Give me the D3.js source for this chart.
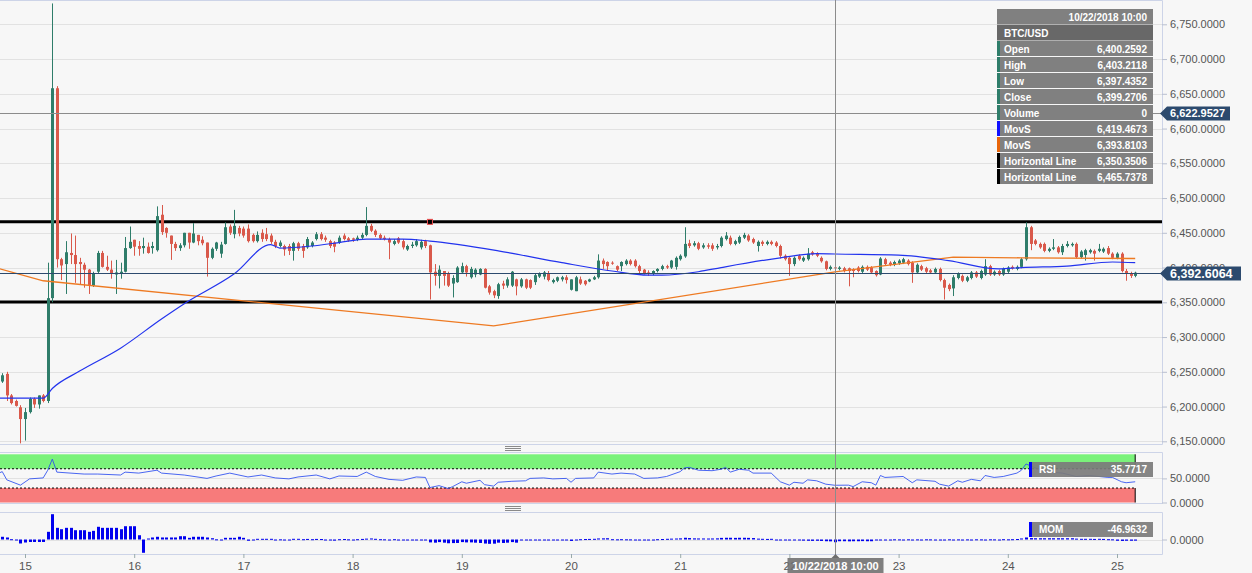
<!DOCTYPE html>
<html><head><meta charset="utf-8">
<script src="https://cdn.jsdelivr.net/npm/d3@7"></script>
<style>
html,body{margin:0;padding:0;background:#f7f7f7;overflow:hidden;}
svg{display:block;font-family:Arial,"Liberation Sans",sans-serif;}
</style></head><body>
<svg id="chart" width="1252" height="573"></svg>
<script>
// ---------------- DATA ----------------
const symbol = "BTC/USD";
const firstCandleUTC = [2018, 9, 14, 19]; // hourly candles
const opens = [
6236,6247,6216,6208,6199,6182,6192,6211,6203,6216,
6208,6356,6658,6412,6405,6421,6418,6408,6404,6397,
6374,6394,6421,6401,6397,6390,6391,6394,6428,6440,
6431,6428,6430,6428,6425,6476,6457,6446,6434,6428,
6432,6450,6436,6447,6440,6436,6414,6427,6420,6434,
6459,6448,6457,6456,6456,6447,6438,6450,6448,6446,
6437,6431,6431,6431,6424,6435,6431,6429,6431,6441,
6448,6443,6438,6436,6436,6446,6442,6442,6440,6443,
6447,6460,6453,6447,6443,6441,6434,6442,6438,6426,
6431,6432,6429,6438,6432,6394,6388,6395,6391,6377,
6379,6393,6402,6386,6390,6390,6398,6373,6366,6359,
6377,6374,6374,6383,6373,6383,6382,6379,6387,6387,
6392,6379,6381,6383,6386,6368,6366,6383,6381,6380,
6383,6386,6410,6408,6407,6402,6402,6405,6410,6410,
6402,6397,6393,6391,6395,6398,6402,6400,6401,6412,
6416,6435,6432,6435,6429,6432,6432,6429,6431,6441,
6443,6434,6436,6443,6446,6441,6431,6437,6434,6437,
6436,6431,6417,6414,6405,6417,6410,6412,6422,6420,
6414,6409,6398,6400.2592,6398,6399,6399,6397,6400,6394,
6401,6400,6395,6390,6412,6407,6404,6406,6407,6410,
6407,6393,6402,6399,6396,6393,6398,6382,6375,6370,
6385,6388,6381,6385,6393,6385,6390,6402,6390,6395,
6390,6394,6401,6398,6401,6412,6458,6439,6434,6434,
6424,6427,6429,6422,6431,6432,6434,6415,6418,6422,
6424,6424,6423,6428,6420,6414,6420,6395,6392,6388];
const highs = [
6248,6250,6218,6210,6202,6198,6213,6213,6216,6218,
6407,6780,6661,6414,6438,6449,6446,6414,6407,6398,
6394,6424,6424,6417,6410,6411,6407,6444,6459,6440,
6438,6443,6436,6437,6488,6490,6458,6446,6437,6435,
6450,6450,6464,6447,6445,6436,6429,6437,6437,6465,
6462,6483,6460,6459,6462,6449,6452,6455,6457,6449,
6440,6439,6433,6434,6437,6437,6434,6444,6438,6451,
6451,6446,6440,6438,6446,6449,6444,6443,6446,6450,
6487,6463,6455,6449,6446,6443,6441,6444,6441,6433,
6437,6441,6440,6440,6433,6405,6403,6395,6394,6389,
6402,6407,6404,6401,6399,6399,6399,6375,6368,6378,
6381,6386,6395,6384,6385,6384,6383,6392,6393,6395,
6395,6384,6387,6388,6389,6383,6388,6387,6382,6384,
6388,6419,6413,6409,6409,6403,6409,6412,6412,6412,
6404,6398,6396,6396,6399,6404,6404,6411,6416,6419,
6458,6440,6438,6437,6435,6435,6435,6434,6445,6451,
6446,6440,6446,6450,6448,6443,6439,6439,6439,6439,
6438,6433,6419,6415,6416,6419,6416,6428,6424,6422,
6416,6410,6403,6403.2118,6402,6401,6400,6399,6402,6403,
6403,6402,6396,6415,6414,6409,6410,6412,6414,6412,
6409,6406,6404,6401,6398,6400,6400,6384,6377,6389,
6393,6390,6388,6395,6395,6397,6412,6404,6396,6397,
6400,6402,6403,6403,6414,6465,6460,6441,6436,6436,
6429,6441,6431,6434,6438,6436,6436,6425,6427,6427,
6426,6434,6429,6431,6422,6422,6422,6398,6394,6394];
const lows = [
6234,6208,6203,6200,6147,6151,6190,6198,6197,6206,
6205,6350,6400,6382,6362,6405,6378,6376,6371,6362,
6372,6392,6400,6395,6384,6362,6384,6393,6427,6417,
6417,6420,6420,6420,6423,6447,6443,6411,6424,6424,
6429,6427,6435,6432,6432,6387,6412,6424,6414,6433,
6447,6442,6445,6443,6436,6436,6436,6437,6438,6434,
6428,6429,6417,6418,6410,6424,6414,6427,6429,6439,
6439,6437,6428,6422,6434,6439,6437,6437,6438,6441,
6445,6451,6444,6440,6439,6412,6432,6434,6426,6424,
6428,6430,6426,6428,6354,6374,6370,6374,6372,6357,
6378,6392,6387,6384,6386,6389,6370,6361,6356,6355,
6369,6371,6372,6360,6371,6369,6369,6375,6385,6383,
6380,6377,6379,6380,6377,6367,6366,6375,6374,6379,
6382,6384,6398,6395,6404,6395,6395,6403,6403,6400,
6390,6390,6388,6389,6393,6396,6398,6398,6397,6410,
6414,6428,6430,6425,6427,6427,6424,6426,6429,6439,
6432,6432,6434,6441,6437,6434,6423,6431,6432,6432,
6429,6413,6410,6388,6402,6410,6408,6410,6417,6415,
6407,6396,6396,6397.4352,6396,6393,6373,6386,6393,6392,
6395,6391,6387,6389,6403,6402,6402,6404,6405,6403,
6378,6391,6395,6392,6391,6391,6380,6354,6366,6359,
6383,6379,6379,6383,6385,6383,6388,6388,6388,6388,
6388,6392,6397,6396,6399,6410,6425,6432,6427,6422,
6422,6425,6420,6418,6429,6430,6413,6413,6410,6420,
6410,6422,6421,6418,6412,6412,6393,6381,6385,6386];
const closes = [
6245,6216,6205,6201,6182,6192,6211,6203,6216,6208,
6356,6658,6412,6403,6422,6418,6405,6405,6397,6375,
6392,6421,6401,6397,6391,6393,6394,6428,6437,6430,
6427,6431,6421,6431,6474,6451,6450,6434,6428,6432,
6450,6436,6449,6438,6435,6414,6427,6436,6433,6458,
6450,6460,6449,6446,6438,6438,6447,6441,6441,6437,
6431,6436,6426,6424,6435,6427,6424,6441,6436,6448,
6441,6440,6431,6430,6443,6441,6439,6440,6443,6447,
6460,6453,6447,6442,6441,6436,6438,6436,6429,6431,
6433,6438,6437,6431,6393,6388,6397,6388,6374,6385,
6400,6402,6393,6398,6397,6398,6371,6364,6360,6376,
6374,6383,6394,6373,6383,6371,6371,6389,6391,6393,
6382,6382,6386,6386,6382,6383,6386,6377,6376,6383,
6386,6410,6405,6402,6406,6397,6408,6410,6405,6402,
6395,6392,6391,6395,6398,6402,6400,6410,6414,6417,
6434,6431,6435,6427,6432,6430,6427,6431,6443,6446,
6434,6438,6444,6447,6439,6436,6437,6434,6437,6434,
6431,6417,6412,6405,6414,6412,6414,6420,6419,6417,
6409,6398,6401,6399.2706,6400,6395,6395,6395,6395,6401,
6397,6393,6389,6413,6405,6404,6408,6410,6412,6405,
6393,6404,6397,6394,6393,6398,6382,6371,6369,6386,
6391,6381,6386,6393,6387,6395,6402,6390,6394,6390,
6398,6400,6399,6401,6412,6458,6434,6434,6429,6424,
6427,6429,6422,6431,6434,6434,6415,6423,6425,6425,
6420,6427,6427,6420,6414,6420,6395,6392,6388,6392.6064];
const momentum = [
47,35,5,-5,-69,-52,-43,-43,-43,-43,
133,438,202,178,202,202,161,161,161,133,
150,220,202,202,202,202,178,230,230,230,
74,-230,17,35,47,35,35,35,35,57,
57,29,47,47,47,35,22,3,-3,29,
29,29,47,29,-22,-3,12,12,12,12,
-17,3,-17,-17,12,12,5,10,5,10,
8,-5,-15,-20,5,8,3,-3,5,10,
15,18,12,5,3,-5,5,0,-10,-5,
-8,0,-5,-10,-50,-55,-45,-55,-65,-62,
-60,-45,-50,-50,-55,-60,-70,-75,-72,-55,
-60,-55,-45,-55,-10,-8,-5,-10,-5,0,
-8,-10,-5,0,-5,-25,0,5,8,10,
12,18,20,22,5,3,5,3,2,-3,
-5,-8,-10,-5,5,8,12,15,17,20,
30,25,20,18,18,17,18,20,28,30,
30,28,30,30,28,25,15,12,10,12,
-5,-12,-15,-12,-14,-12,-20,-22,-24,-22,
-25,-30,-32,-46.9632,-30,-30,-32,-30,-30,-28,
-30,-30,-8,-5,-3,-2,3,2,-2,3,
-3,2,-2,3,2,-3,-2,-5,3,-2,
2,-3,2,-2,3,2,-2,3,2,-3,
5,3,5,8,18,35,25,22,22,22,
22,22,22,22,22,22,15,12,12,12,
10,12,10,5,3,-22,-25,-22,-22,-20];
// RSI read at candle indices
const rsiIdx = [-1,0,1,4,6,9,10,11,12,18,21,26,27,30,34,35,40,45,47,50,54,57,60,63,65,69,72,74,78,80,82,85,88,91,93,94,96,98,99,101,102,105,106,108,109,112,115,116,119,121,124,125,126,130,131,134,136,139,141,144,146,149,150,151,153,156,158,159,160,162,164,165,169,171,173,174,176,177,179,181,183,186,187,189,191,192,193,194,198,200,201,205,206,208,210,211,213,215,216,218,220,223,224,225,227,230,233,236,239,243,244,246,247,249];
const rsiVal = [60,64,47,36,49,51,67,90,63,59,59,57,63,61,67,61,57,50,55,61,53,57,51,49,53,57,49,55,54,63,54,48,46,53,52,31,35,29,33,43,40,46,37,34,42,44,45,50,51,49,50,42,50,51,63,59,61,59,50,51,54,64,72,73,67,66,69,73,63,69,67,61,61,43,36,42,40,47,45,38,35.7717,36,33,43,41,36,56,52,54,41,47,44,38,34,45,42,48,45,56,52,54,61,67,80,72,63,61,54,56,52,52,43,41,43];
// Moving averages read at candle indices
const maFastIdx = [-1,9,11,17,26,35,40,51,59,61,68,74,80,88,94,109,123,134,142,145,153,158,171,179,183,197,208,219,224,234,244,249];
const maFastVal = [6212,6212,6226,6251,6284,6326,6348,6391,6433,6428,6431,6436,6441,6441,6438,6424,6407,6395,6389,6389,6394,6400,6414,6420,6419.4673,6418,6410,6398,6400,6402,6408,6407];
const maSlowIdx = [-1,9,108,183,209,224,249];
const maSlowVal = [6399,6381,6316,6393.8103,6415,6414,6413];
const priceTicks = [6150,6200,6250,6300,6350,6400,6450,6500,6550,6600,6650,6700,6750];
const rsiTicks = [0,50];
const momTicks = [0];
const rsiBands = {over:70, under:30};
const horizontalLines = [6350.3506, 6465.7378];
const hLineAnchorIdx = 94;
const currentPrice = 6392.6064;
const crossIdx = 183;
const crossPrice = 6622.9527;
const infoLabels = ["Open","High","Low","Close","Volume","MovS","MovS","Horizontal Line","Horizontal Line"];
const infoValues = ["6,400.2592","6,403.2118","6,397.4352","6,399.2706","0","6,419.4673","6,393.8103","6,350.3506","6,465.7378"];
const infoKinds = ["ohlc","ohlc","ohlc","ohlc","ohlc","fast","slow","hline","hline"];
const rsiLabel = ["RSI","35.7717"];
const momLabel = ["MOM","-46.9632"];

// ---------------- LAYOUT ----------------
const plotRight = 1162;
const mainTop = 0, mainBottom = 444;
const rsiTop = 452, rsiBottom = 503;
const momTop = 512, momBottom = 554;
const col = {bg:"#f7f7f7", grid:"#e2e2e2", border:"#cdd4e8", up:"#2f7d6a", down:"#d9594b",
  fast:"#2233ee", slow:"#ee7a22", price:"#2c4a6e", cross:"#8c8c8c", text:"#555",
  info:"#808080", infoDark:"#686868", green:"#7af27a", red:"#f77b7b", mom:"#0000ee"};
const kindColor = {ohlc:"#2f7d6a", fast:"#1010ff", slow:"#e8650a", hline:"#000"};

const svg = d3.select("#chart");
const hour = 3600e3;
const t0 = Date.UTC(...firstCandleUTC);
const tOf = i => new Date(t0 + i*hour);
const day15 = Date.UTC(2018, 9, 15), day15X = 25, pxPerHour = 4.55;
const x = d3.scaleUtc()
  .domain([new Date(day15 - day15X/pxPerHour*hour), new Date(day15 + (plotRight-day15X)/pxPerHour*hour)])
  .range([0, plotRight]);
const y = d3.scaleLinear().domain([6150, 6750]).range([441.3, 24.3]);
const yRsi = d3.scaleLinear().domain([0, 100]).range([502.5, 454.3]);
const yMom = d3.scaleLinear().domain([0, 438]).range([539.5, 514.2]);
const fmt4 = d3.format(",.4f");
const tfmt = d3.utcFormat("%m/%d/%Y %H:%M");

svg.append("rect").attr("width",1252).attr("height",573).attr("fill",col.bg);

const defs = svg.append("defs");
defs.append("clipPath").attr("id","clipMain").append("rect").attr("x",0).attr("y",mainTop).attr("width",plotRight).attr("height",mainBottom-mainTop);
defs.append("clipPath").attr("id","clipRsi").append("rect").attr("x",0).attr("y",rsiTop).attr("width",plotRight).attr("height",rsiBottom-rsiTop);

// grid
svg.append("g").selectAll("line").data(priceTicks).join("line")
  .attr("x1",0).attr("x2",plotRight).attr("y1",d=>Math.round(y(d))+0.5).attr("y2",d=>Math.round(y(d))+0.5)
  .attr("stroke",col.grid);

// borders
const border = svg.append("g").attr("stroke",col.border).attr("fill","none");
border.append("path").attr("d",`M0,${mainTop+0.5}H${plotRight+0.5}V${mainBottom+0.5}H0`);
border.append("path").attr("d",`M0,${rsiTop+0.5}H${plotRight+0.5}V${rsiBottom+0.5}H0`);
border.append("path").attr("d",`M0,${momTop+0.5}H${plotRight+0.5}V${momBottom+0.5}H0`);

// handles
[448.5, 508.5].forEach(cy => {
  svg.append("g").selectAll("line").data([-2,0,2]).join("line")
    .attr("x1",505).attr("x2",521).attr("y1",d=>cy+d).attr("y2",d=>cy+d)
    .attr("stroke","#8a8a8a");
});

// price axis
const yAxis = d3.axisRight(y).tickValues(priceTicks).tickSize(5).tickPadding(3).tickFormat(fmt4);
svg.append("g").attr("transform",`translate(${plotRight},0)`).call(yAxis)
  .call(g=>g.select(".domain").remove())
  .call(g=>g.selectAll("line").attr("stroke","#b8bfd0"))
  .call(g=>g.selectAll("text").attr("fill",col.text).style("font-size","11px").style("font-family","Arial, 'Liberation Sans', sans-serif"));

// main panel
const main = svg.append("g").attr("clip-path","url(#clipMain)");
main.selectAll(".hl").data(horizontalLines).join("line")
  .attr("x1",0).attr("x2",plotRight).attr("y1",d=>y(d)).attr("y2",d=>y(d))
  .attr("stroke","#000").attr("stroke-width",3);

// candles
const idx = d3.range(opens.length);
const cg = main.append("g");
cg.selectAll(".wick").data(idx).join("line")
  .attr("x1",i=>Math.round(x(tOf(i)))+0.5).attr("x2",i=>Math.round(x(tOf(i)))+0.5)
  .attr("y1",i=>y(highs[i])).attr("y2",i=>y(lows[i]))
  .attr("stroke",i=>closes[i]>=opens[i]?col.up:col.down).attr("stroke-width",1);
cg.selectAll(".body").data(idx).join("rect")
  .attr("x",i=>Math.round(x(tOf(i)))-1).attr("width",3)
  .attr("y",i=>y(Math.max(opens[i],closes[i])))
  .attr("height",i=>Math.max(1, Math.abs(y(opens[i])-y(closes[i]))))
  .attr("fill",i=>closes[i]>=opens[i]?col.up:col.down);

// moving averages
const maLine = d3.line().x(d=>x(tOf(d[0]))).y(d=>y(d[1]));
main.append("path").datum(maSlowIdx.map((d,k)=>[d,maSlowVal[k]]))
  .attr("d",maLine).attr("fill","none").attr("stroke",col.slow).attr("stroke-width",1.3);
main.append("path").datum(maFastIdx.map((d,k)=>[d,maFastVal[k]]))
  .attr("d",maLine.curve(d3.curveMonotoneX)).attr("fill","none").attr("stroke",col.fast).attr("stroke-width",1.2);

// current price line
main.append("line").attr("x1",0).attr("x2",plotRight)
  .attr("y1",Math.round(y(currentPrice))+0.5).attr("y2",Math.round(y(currentPrice))+0.5)
  .attr("stroke",col.price).attr("stroke-width",1.2);
// horizontal crosshair
main.append("line").attr("x1",0).attr("x2",plotRight)
  .attr("y1",Math.round(y(crossPrice))+0.5).attr("y2",Math.round(y(crossPrice))+0.5)
  .attr("stroke",col.cross);

// anchor marker of horizontal line
const ax = x(tOf(hLineAnchorIdx)), ay = y(horizontalLines[1]);
main.append("rect").attr("x",ax-2.5).attr("y",ay-2.5).attr("width",5).attr("height",5)
  .attr("fill","#000").attr("stroke","#f05050").attr("stroke-width",1);

// RSI panel
const lastX = x(tOf(opens.length-1));
const rsiG = svg.append("g").attr("clip-path","url(#clipRsi)");
rsiG.append("line").attr("x1",0).attr("x2",plotRight).attr("y1",Math.round(yRsi(50))+0.5).attr("y2",Math.round(yRsi(50))+0.5).attr("stroke",col.grid);
rsiG.append("rect").attr("x",0).attr("width",lastX).attr("y",yRsi(100)).attr("height",yRsi(rsiBands.over)-yRsi(100)).attr("fill",col.green);
rsiG.append("rect").attr("x",0).attr("width",lastX).attr("y",yRsi(rsiBands.under)).attr("height",yRsi(0)-yRsi(rsiBands.under)).attr("fill",col.red);
[rsiBands.over, rsiBands.under].forEach(v=>{
  rsiG.append("line").attr("x1",0).attr("x2",lastX).attr("y1",yRsi(v)).attr("y2",yRsi(v))
    .attr("stroke","#000").attr("stroke-dasharray","2,2");
});
rsiG.append("line").attr("x1",lastX).attr("x2",lastX).attr("y1",yRsi(100)).attr("y2",yRsi(rsiBands.over)).attr("stroke","#000");
rsiG.append("line").attr("x1",lastX).attr("x2",lastX).attr("y1",yRsi(rsiBands.under)).attr("y2",yRsi(0)).attr("stroke","#000");
rsiG.append("path").datum(rsiIdx.map((d,k)=>[d,rsiVal[k]]))
  .attr("d",d3.line().x(d=>x(tOf(d[0]))).y(d=>yRsi(d[1])))
  .attr("fill","none").attr("stroke","#2a4cf0").attr("stroke-width",1).attr("stroke-opacity",0.85);

const rsiAxis = d3.axisRight(yRsi).tickValues(rsiTicks).tickSize(5).tickPadding(3).tickFormat(fmt4);
svg.append("g").attr("transform",`translate(${plotRight},0)`).call(rsiAxis)
  .call(g=>g.select(".domain").remove())
  .call(g=>g.selectAll("line").attr("stroke","#b8bfd0"))
  .call(g=>g.selectAll("text").attr("fill",col.text).style("font-size","11px").style("font-family","Arial, 'Liberation Sans', sans-serif"));

// MOM panel
svg.append("line").attr("x1",0).attr("x2",plotRight).attr("y1",Math.round(yMom(0))+0.5).attr("y2",Math.round(yMom(0))+0.5).attr("stroke",col.grid);
svg.append("g").selectAll("rect").data(idx).join("rect")
  .attr("x",i=>Math.round(x(tOf(i)))-1).attr("width",3)
  .attr("y",i=>Math.min(yMom(0),yMom(momentum[i])))
  .attr("height",i=>Math.max(1,Math.abs(yMom(momentum[i])-yMom(0))))
  .attr("fill",col.mom);
const momAxis = d3.axisRight(yMom).tickValues(momTicks).tickSize(5).tickPadding(3).tickFormat(fmt4);
svg.append("g").attr("transform",`translate(${plotRight},0)`).call(momAxis)
  .call(g=>g.select(".domain").remove())
  .call(g=>g.selectAll("line").attr("stroke","#b8bfd0"))
  .call(g=>g.selectAll("text").attr("fill",col.text).style("font-size","11px").style("font-family","Arial, 'Liberation Sans', sans-serif"));

// X axis
const xAxis = d3.axisBottom(x).ticks(d3.utcDay.every(1)).tickFormat(d3.utcFormat("%-d")).tickSize(4).tickPadding(4);
svg.append("g").attr("transform",`translate(0,${momBottom})`).call(xAxis)
  .call(g=>g.select(".domain").remove())
  .call(g=>g.selectAll("line").attr("stroke","#9aa"))
  .call(g=>g.selectAll("text").attr("fill",col.text).style("font-size","11.5px").style("font-family","Arial, 'Liberation Sans', sans-serif"));

// vertical crosshair
const cx = Math.round(x(tOf(crossIdx)))+0.5;
svg.append("line").attr("x1",cx).attr("x2",cx).attr("y1",0).attr("y2",558).attr("stroke",col.cross);

// indicator labels
function indLabel(top, texts){
  const g = svg.append("g");
  g.append("rect").attr("x",1029).attr("y",top).attr("width",124).attr("height",15).attr("fill","#7b7b7b").attr("fill-opacity",0.92);
  g.append("rect").attr("x",1029).attr("y",top).attr("width",3).attr("height",15).attr("fill","#0000ff");
  g.append("text").attr("x",1039).attr("y",top+11).text(texts[0]).attr("fill","#fff").style("font-size","10px").style("font-weight","bold");
  g.append("text").attr("x",1147).attr("y",top+11).attr("text-anchor","end").text(texts[1]).attr("fill","#fff").style("font-size","10px").style("font-weight","bold");
}
indLabel(462, rsiLabel);
indLabel(522, momLabel);

// info box
const info = svg.append("g");
const rowTop = k => 9 + 16*k;
info.append("rect").attr("x",997).attr("y",rowTop(0)).attr("width",156).attr("height",15.5).attr("fill",col.info);
info.append("text").attr("x",1147).attr("y",rowTop(0)+11.5).attr("text-anchor","end").text(tfmt(tOf(crossIdx)))
  .attr("fill","#fff").style("font-size","10px").style("font-weight","bold");
info.append("rect").attr("x",997).attr("y",rowTop(1)).attr("width",156).attr("height",15.5).attr("fill",col.infoDark);
info.append("text").attr("x",1004).attr("y",rowTop(1)+11.5).text(symbol)
  .attr("fill","#fff").style("font-size","10px").style("font-weight","bold");
infoLabels.forEach((lab,k)=>{
  const t = rowTop(k+2);
  info.append("rect").attr("x",997).attr("y",t).attr("width",156).attr("height",15).attr("fill",col.info);
  info.append("rect").attr("x",997).attr("y",t).attr("width",3).attr("height",15).attr("fill",kindColor[infoKinds[k]]);
  info.append("text").attr("x",1004).attr("y",t+11.5).text(lab).attr("fill","#fff").style("font-size","10px").style("font-weight","bold");
  info.append("text").attr("x",1147).attr("y",t+11.5).attr("text-anchor","end").text(infoValues[k]).attr("fill","#fff").style("font-size","10px").style("font-weight","bold");
});

// price tags
function priceTag(v, w, fs){
  const yc = Math.round(y(v))+0.5;
  svg.append("path").attr("d",`M${plotRight-2},${yc}L${plotRight+5},${yc-7}H${plotRight+5+w}V${yc+7}H${plotRight+5}Z`).attr("fill",col.price);
  svg.append("text").attr("x",plotRight+8).attr("y",yc+fs*0.36).text(fmt4(v)).attr("fill","#fff").style("font-size",fs+"px").style("font-weight","bold");
}
priceTag(crossPrice, 63, 11);
priceTag(currentPrice, 74, 12.5);

// time tag
const tg = svg.append("g");
tg.append("path").attr("d",`M${cx-4},558L${cx},554L${cx+4},558Z`).attr("fill","#6e6e6e");
tg.append("rect").attr("x",cx-48).attr("y",558).attr("width",96).attr("height",15).attr("fill","#6e6e6e").attr("fill-opacity",0.88);
tg.append("text").attr("x",cx).attr("y",570).attr("text-anchor","middle").text(tfmt(tOf(crossIdx)))
  .attr("fill","#fff").style("font-size","11px").style("font-weight","bold");
</script>
</body></html>
